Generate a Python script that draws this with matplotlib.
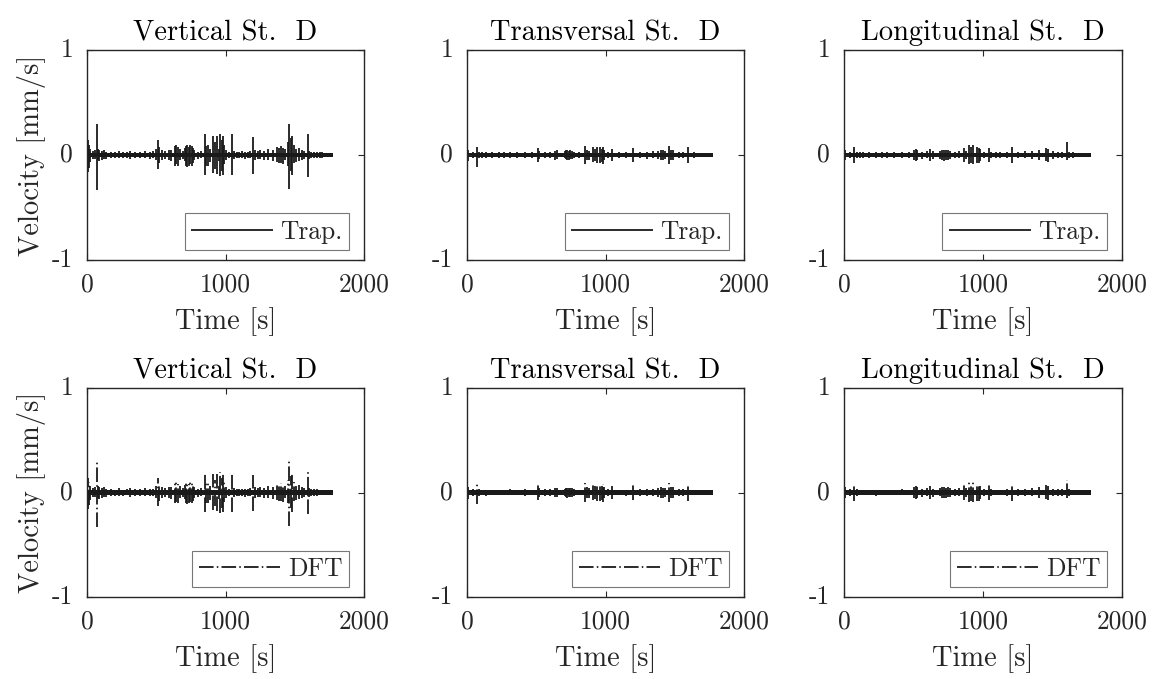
import matplotlib
matplotlib.use("Agg")
import matplotlib.pyplot as plt

plt.rcParams['font.family'] = ['cmr10', 'DejaVu Serif']
plt.rcParams['axes.formatter.use_mathtext'] = True
plt.rcParams['mathtext.fontset'] = 'cm'
plt.rcParams['lines.scale_dashes'] = False

# ---------------- data ----------------
t_end = 1775          # end of record [s]
noise_level = 0.02    # background noise amplitude [mm/s]

vert_t = [2, 8, 14, 20, 40, 55, 72, 80, 90, 105, 120, 140, 170, 200, 228, 260, 290, 312, 350,
          385, 420, 455, 480, 500, 510, 518, 545, 565, 590, 610, 635, 645, 655, 668, 690,
          705, 715, 725, 735, 745, 755, 765, 775, 800, 825, 853, 862, 875, 890, 913, 925,
          937, 950, 962, 972, 982, 992, 1005, 1025, 1050, 1060, 1080, 1100, 1120, 1140,
          1160, 1175, 1202, 1215, 1235, 1250, 1280, 1310, 1340, 1370, 1385, 1400, 1415,
          1430, 1450, 1462, 1472, 1482, 1492, 1510, 1530, 1550, 1570, 1594, 1605, 1620,
          1640, 1660, 1680, 1700, 1720, 1740, 1760]
vert_hi = [0.17, 0.14, 0.10, 0.06, 0.04, 0.05, 0.30, 0.06, 0.05, 0.04, 0.05, 0.03, 0.03,
           0.025, 0.04, 0.025, 0.03, 0.04, 0.03, 0.03, 0.04, 0.03, 0.035, 0.06, 0.14, 0.08,
           0.05, 0.04, 0.05, 0.05, 0.09, 0.10, 0.08, 0.06, 0.04, 0.07, 0.09, 0.10, 0.08,
           0.10, 0.09, 0.07, 0.05, 0.03, 0.04, 0.20, 0.09, 0.10, 0.06, 0.18, 0.12, 0.18,
           0.06, 0.20, 0.14, 0.18, 0.10, 0.05, 0.03, 0.20, 0.04, 0.03, 0.03, 0.035, 0.03,
           0.03, 0.04, 0.17, 0.05, 0.04, 0.05, 0.04, 0.06, 0.05, 0.08, 0.07, 0.09, 0.07,
           0.06, 0.12, 0.30, 0.16, 0.18, 0.10, 0.06, 0.07, 0.05, 0.04, 0.20, 0.04, 0.03,
           0.03, 0.03, 0.025, 0.025, 0.02, 0.02, 0.015]
vert_lo = [-0.18, -0.16, -0.12, -0.07, -0.04, -0.04, -0.33, -0.05, -0.06, -0.05, -0.04,
           -0.04, -0.03, -0.03, -0.03, -0.03, -0.025, -0.04, -0.03, -0.03, -0.03, -0.035,
           -0.03, -0.05, -0.13, -0.08, -0.05, -0.04, -0.05, -0.06, -0.10, -0.09, -0.10,
           -0.05, -0.04, -0.06, -0.10, -0.11, -0.10, -0.09, -0.10, -0.08, -0.05, -0.04,
           -0.03, -0.19, -0.10, -0.10, -0.07, -0.17, -0.13, -0.18, -0.06, -0.20, -0.15,
           -0.19, -0.09, -0.05, -0.03, -0.19, -0.04, -0.03, -0.03, -0.03, -0.04, -0.03,
           -0.03, -0.18, -0.05, -0.04, -0.04, -0.05, -0.05, -0.06, -0.07, -0.08, -0.08,
           -0.09, -0.05, -0.10, -0.32, -0.15, -0.19, -0.08, -0.07, -0.06, -0.05, -0.04,
           -0.21, -0.04, -0.03, -0.03, -0.03, -0.025, -0.025, -0.02, -0.02, -0.015]

trans_t = [2, 10, 40, 72, 85, 110, 140, 180, 228, 270, 312, 360, 420, 470, 510, 520, 560,
           600, 635, 650, 705, 715, 725, 735, 745, 755, 770, 810, 853, 865, 880, 913, 925,
           937, 962, 972, 982, 992, 1020, 1050, 1100, 1150, 1202, 1250, 1300, 1340, 1380,
           1400, 1415, 1430, 1462, 1475, 1490, 1530, 1560, 1594, 1640, 1700, 1750]
trans_hi = [0.08, 0.05, 0.03, 0.08, 0.03, 0.025, 0.025, 0.025, 0.025, 0.025, 0.03, 0.025,
            0.03, 0.025, 0.07, 0.04, 0.03, 0.03, 0.04, 0.045, 0.035, 0.045, 0.045, 0.04,
            0.045, 0.04, 0.03, 0.025, 0.09, 0.05, 0.04, 0.08, 0.06, 0.08, 0.08, 0.06, 0.08,
            0.05, 0.03, 0.06, 0.025, 0.025, 0.07, 0.03, 0.03, 0.035, 0.04, 0.05, 0.045,
            0.04, 0.09, 0.05, 0.05, 0.03, 0.03, 0.08, 0.025, 0.02, 0.02]
trans_lo = [-0.08, -0.06, -0.03, -0.11, -0.03, -0.025, -0.03, -0.025, -0.025, -0.025,
            -0.025, -0.025, -0.03, -0.025, -0.07, -0.04, -0.03, -0.03, -0.045, -0.04,
            -0.03, -0.04, -0.05, -0.045, -0.04, -0.04, -0.03, -0.025, -0.09, -0.05, -0.05,
            -0.07, -0.06, -0.08, -0.08, -0.07, -0.09, -0.05, -0.03, -0.06, -0.025, -0.03,
            -0.07, -0.03, -0.035, -0.03, -0.04, -0.05, -0.05, -0.04, -0.09, -0.05, -0.05,
            -0.03, -0.03, -0.08, -0.025, -0.02, -0.02]

long_t = [2, 10, 40, 75, 90, 115, 140, 180, 228, 270, 312, 360, 420, 465, 505, 515, 525,
          560, 600, 620, 640, 690, 705, 720, 735, 750, 765, 800, 830, 860, 875, 900, 915,
          930, 955, 968, 980, 1010, 1040, 1060, 1090, 1120, 1170, 1208, 1250, 1300, 1350,
          1400, 1455, 1470, 1500, 1540, 1570, 1603, 1620, 1650, 1680, 1710, 1740]
long_hi = [0.06, 0.05, 0.03, 0.08, 0.03, 0.025, 0.025, 0.025, 0.025, 0.025, 0.025, 0.025,
           0.03, 0.025, 0.05, 0.06, 0.05, 0.03, 0.04, 0.06, 0.035, 0.04, 0.05, 0.05, 0.045,
           0.05, 0.04, 0.03, 0.04, 0.07, 0.04, 0.10, 0.08, 0.10, 0.08, 0.07, 0.06, 0.03,
           0.07, 0.03, 0.025, 0.025, 0.03, 0.08, 0.03, 0.035, 0.04, 0.05, 0.07, 0.06, 0.035,
           0.03, 0.03, 0.12, 0.03, 0.025, 0.02, 0.02, 0.02]
long_lo = [-0.06, -0.05, -0.03, -0.08, -0.03, -0.025, -0.025, -0.025, -0.03, -0.025,
           -0.025, -0.025, -0.025, -0.025, -0.05, -0.06, -0.05, -0.04, -0.03, -0.06, -0.04,
           -0.035, -0.05, -0.055, -0.05, -0.045, -0.04, -0.03, -0.03, -0.07, -0.04, -0.09,
           -0.08, -0.09, -0.08, -0.08, -0.06, -0.03, -0.07, -0.03, -0.025, -0.025, -0.03,
           -0.08, -0.03, -0.03, -0.035, -0.05, -0.06, -0.07, -0.035, -0.03, -0.03, -0.05,
           -0.03, -0.025, -0.02, -0.02, -0.02]

titles = ["Vertical St.  D", "Transversal St.  D", "Longitudinal St.  D"]
methods = ["Trap.", "DFT"]
x_ticks = [0, 1000, 2000]
x_ticklabels = ["0", "1000", "2000"]
y_ticks = [-1, 0, 1]
y_ticklabels = ["-1", "0", "1"]

series = [(vert_t, vert_hi, vert_lo), (trans_t, trans_hi, trans_lo), (long_t, long_hi, long_lo)]

# ---------------- figure ----------------
W, H = 1156, 679
fig = plt.figure(figsize=(W / 100, H / 100), dpi=100)

fs_tick = 18.4
fs_lab = 20.5
fs_leg = 18.4
gray = '#262626'
col_left = [87, 467, 844]
col_w = [277, 277, 278]
row_top = [50, 388]
row_h = [210, 209]
dashdot = (0, (10.5, 2.3, 1.1, 2.3))

for r, method in enumerate(methods):
    ls = '-' if method == "Trap." else dashdot
    for c in range(3):
        ax = fig.add_axes([col_left[c] / W, (H - row_top[r] - row_h[r]) / H,
                           col_w[c] / W, row_h[r] / H])
        t, hi, lo = series[c]
        ax.fill_between([0, t_end], [-noise_level, -noise_level], [noise_level, noise_level],
                        color='#1a1a1a', linewidth=0)
        ax.vlines(t, lo, hi, colors='#1a1a1a', linewidth=1.3, linestyles=[ls], label=method)
        ax.set_xlim(0, 2000)
        ax.set_ylim(-1, 1)
        ax.set_xticks(x_ticks)
        ax.set_xticklabels(x_ticklabels)
        ax.set_yticks(y_ticks)
        ax.set_yticklabels(y_ticklabels, va='center')
        ax.tick_params(direction='in', top=True, right=True, labelsize=fs_tick, colors=gray,
                       length=4, width=0.8)
        ax.tick_params(axis='x', pad=9)
        ax.tick_params(axis='y', pad=10)
        for sp in ax.spines.values():
            sp.set_color(gray)
            sp.set_linewidth(1.0)
        ax.set_title(titles[c], fontsize=fs_lab, color='black', pad=7)
        ax.set_xlabel("Time [s]", fontsize=fs_lab, color=gray, labelpad=8)
        if c == 0:
            ax.set_ylabel("Velocity [mm/s]", fontsize=fs_lab, color=gray, labelpad=4)
        leg = ax.legend(loc='lower right', bbox_to_anchor=(1 - 15 / 277, 10 / 210),
                        fontsize=fs_leg, handlelength=3.2, frameon=True,
                        fancybox=False, borderpad=0.25, handletextpad=0.3,
                        borderaxespad=0)
        leg.get_frame().set_edgecolor('#555555')
        leg.get_frame().set_linewidth(0.8)
        for txt in leg.get_texts():
            txt.set_color(gray)

fig.savefig("out.png", dpi=100)
